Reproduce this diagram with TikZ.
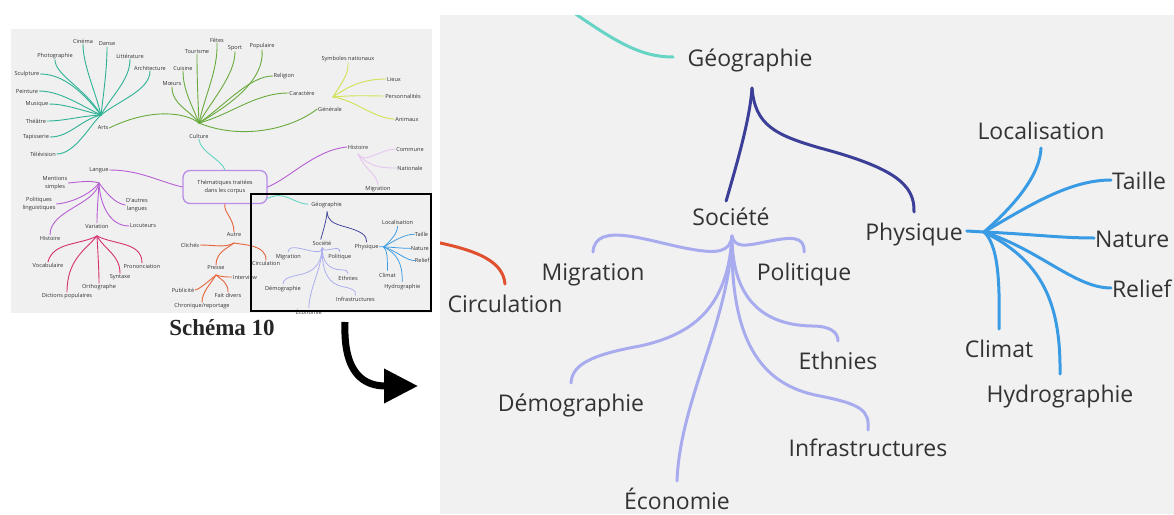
\documentclass[tikz,border=0pt]{standalone}
\usepackage{fontspec}
\newfontfamily\mmfont{Open Sans}
\newfontfamily\capfont{Liberation Serif}
\usetikzlibrary{arrows.meta}
\definecolor{txt}{HTML}{333333}
\definecolor{panelbg}{HTML}{F1F1F1}
\definecolor{thumbbg}{HTML}{F0F0F0}
\definecolor{tealc}{HTML}{66D4C4}
\definecolor{navy}{HTML}{3C3F98}
\definecolor{lav}{HTML}{A8ACEE}
\definecolor{sky}{HTML}{3A9BE5}
\definecolor{redc}{HTML}{E0502F}
\definecolor{artc}{HTML}{2EB295}
\definecolor{culc}{HTML}{68AB3C}
\definecolor{genc}{HTML}{D3E152}
\definecolor{purc}{HTML}{B65ED3}
\definecolor{lpur}{HTML}{E6C5F0}
\definecolor{varc}{HTML}{D6306F}
\definecolor{autc}{HTML}{E5653C}
\definecolor{boxc}{HTML}{B88DE8}
\newcommand\brw{3pt}
\newcommand\geotree[1]{%
\node[lbl,outer sep=14.5pt] (#1geo) at (750,57) {Géographie};
\node[lbl,outer sep=0pt] (#1soc) at (731,216) {Société};
\node[lbl] (#1phy) at (914,231) {Physique};
\node[lbl] (#1mig) at (593,271) {Migration};
\node[lbl] (#1pol) at (804,271) {Politique};
\node[lbl] (#1eth) at (838,360) {Ethnies};
\node[lbl] (#1dem) at (571,402) {Démographie};
\node[lbl,outer sep=2pt] (#1inf) at (868,447) {Infrastructures};
\node[lbl] (#1eco) at (677,500) {Économie};
\node[lbl,outer sep=3pt] (#1loc) at (1041,130) {Localisation};
\node[lbl,outer sep=1pt,anchor=west] (#1tai) at (1111,180) {Taille};
\node[lbl,outer sep=1pt,anchor=west] (#1nat) at (1094,238) {Nature};
\node[lbl,outer sep=1pt,anchor=west] (#1rel) at (1111,288) {Relief};
\node[lbl] (#1cli) at (999,348) {Climat};
\node[lbl] (#1hyd) at (1060,393) {Hydrographie};
\coordinate (#1geoH) at (752,88);
\coordinate (#1socH) at (732,236);
\coordinate (#1phyH) at (984,232);
\draw[branch,navy] (#1geoH) .. controls (750,120) and (735,170) .. (#1soc.108);
\draw[branch,navy] (#1geoH) .. controls (755,125) and (775,135) .. (820,148) .. controls (895,168) and (915,185) .. (#1phy.north);
\draw[branch,lav] (#1socH) .. controls (730,252) and (718,254) .. (690,249) .. controls (650,242) and (595,220) .. (#1mig.north);
\draw[branch,lav] (#1socH) .. controls (735,248) and (745,246) .. (765,242) .. controls (790,237) and (805,235) .. (#1pol.north);
\draw[branch,lav] (#1socH) .. controls (732,290) and (755,325) .. (812,326) .. controls (830,326) and (838,332) .. (#1eth.north);
\draw[branch,lav] (#1socH) .. controls (728,310) and (690,335) .. (640,346) .. controls (590,355) and (572,365) .. (#1dem.north);
\draw[branch,lav] (#1socH) .. controls (730,320) and (680,400) .. (#1eco.north);
\draw[branch,lav] (#1socH) .. controls (730,340) and (760,385) .. (820,396) .. controls (860,404) and (870,410) .. (#1inf.north);
\draw[branch,sky] (#1phy.east) -- (#1phyH);
\draw[branch,sky] (#1phyH) .. controls (1015,205) and (1040,175) .. (#1loc.south);
\draw[branch,sky] (#1phyH) .. controls (1030,205) and (1070,180) .. (#1tai.west);
\draw[branch,sky] (#1phyH) .. controls (1030,234) and (1060,238) .. (#1nat.west);
\draw[branch,sky] (#1phyH) .. controls (1040,250) and (1075,288) .. (#1rel.west);
\draw[branch,sky] (#1phyH) .. controls (998,245) and (1000,280) .. (#1cli.north);
\draw[branch,sky] (#1phyH) .. controls (1040,260) and (1061,300) .. (#1hyd.north);
}
\begin{document}
\begin{tikzpicture}[x=1pt,y=-1pt,
  lbl/.style={font=\mmfont\fontsize{23}{27}\selectfont,text=txt,inner sep=0pt,outer sep=4pt,text height=24pt,text depth=6pt},
  tlbl/.style={font=\mmfont\fontsize{5.6}{7.5}\selectfont,text=txt,inner sep=0.5pt,outer sep=0.5pt},
  branch/.style={line width=\brw,line cap=round},
  twig/.style={line width=0.9pt,line cap=round}]
\useasboundingbox (0,0) rectangle (1174,514);
\fill[white] (0,0) rectangle (1174,514);
\begin{scope}
\fill[thumbbg] (11,29) rectangle (432,313);
\clip (11,29) rectangle (432,313);
\node[tlbl,draw=boxc,line width=1.3pt,rounded corners=7pt,minimum width=84pt,minimum height=33pt,align=center] (box) at (225,187) {Thématiques traitées\\dans les corpus};
\node[tlbl] (cin) at (83,41) {Cinéma};
\node[tlbl] (dan) at (107,44) {Danse};
\node[tlbl] (pho) at (55,56) {Photographie};
\node[tlbl] (lit) at (130,56) {Littérature};
\node[tlbl] (arc) at (150,68) {Architecture};
\node[tlbl] (scu) at (27,74) {Sculpture};
\node[tlbl] (pei) at (27,91) {Peinture};
\node[tlbl] (mus) at (37,104) {Musique};
\node[tlbl] (the) at (36,121) {Théâtre};
\node[tlbl] (tap) at (36,137) {Tapisserie};
\node[tlbl] (tel) at (43,154) {Télévision};
\node[tlbl] (arts) at (103,128) {Arts};
\node[tlbl] (moe) at (172,84) {Mœurs};
\node[tlbl] (cui) at (183,68) {Cuisine};
\node[tlbl] (tou) at (197,51) {Tourisme};
\node[tlbl] (fet) at (217,40) {Fêtes};
\node[tlbl] (spo) at (235,48) {Sport};
\node[tlbl] (pop) at (262,46) {Populaire};
\node[tlbl] (reli) at (284,76) {Religion};
\node[tlbl] (car) at (302,93) {Caractère};
\node[tlbl] (cul) at (199,136) {Culture};
\node[tlbl] (gen) at (330,109) {Générale};
\node[tlbl] (sym) at (348,59) {Symboles nationaux};
\node[tlbl] (lie) at (394,79) {Lieux};
\node[tlbl] (per) at (403,96) {Personnalités};
\node[tlbl] (ani) at (407,119) {Animaux};
\node[tlbl] (his) at (358,147) {Histoire};
\node[tlbl] (com) at (410,149) {Commune};
\node[tlbl] (nati) at (410,168) {Nationale};
\node[tlbl] (hmig) at (378,189) {Migration};
\node[tlbl] (lan) at (99,170) {Langue};
\node[tlbl,align=center] (men) at (55,183) {Mentions\\simples};
\node[tlbl,align=center] (poli) at (39,204) {Politiques\\linguistiques};
\node[tlbl,align=center] (dau) at (137,205) {D'autres\\langues};
\node[tlbl] (lhis) at (50,238) {Histoire};
\node[tlbl] (var) at (97,226) {Variation};
\node[tlbl] (locu) at (143,226) {Locuteurs};
\node[tlbl] (voc) at (48,265) {Vocabulaire};
\node[tlbl] (pro) at (142,266) {Prononciation};
\node[tlbl] (syn) at (120,277) {Syntaxe};
\node[tlbl] (ort) at (99,287) {Orthographe};
\node[tlbl] (dic) at (67,296) {Dictions populaires};
\node[tlbl] (aut) at (234,235) {Autre};
\node[tlbl] (clic) at (190,245) {Clichés};
\node[tlbl] (pre) at (216,268) {Presse};
\node[tlbl] (tcirc) at (266,263) {Circulation};
\node[tlbl] (itw) at (245,277) {Interview};
\node[tlbl] (pub) at (183,290) {Publicité};
\node[tlbl] (fai) at (228,295) {Fait divers};
\node[tlbl] (chr) at (202,306) {Chronique/reportage};
\coordinate (artsH) at (101,115);
\coordinate (culH) at (199,123);
\coordinate (genH) at (333,97);
\coordinate (hisH) at (358,154);
\coordinate (lanH) at (99,183);
\coordinate (varH) at (97,236);
\coordinate (autH) at (234,243);
\coordinate (preH) at (216,275);
\draw[twig,artc] (artsH) .. controls (95,90) and (83,65) .. (cin.south);
\draw[twig,artc] (artsH) .. controls (104,90) and (107,68) .. (dan.south);
\draw[twig,artc] (artsH) .. controls (85,88) and (55,75) .. (pho.south);
\draw[twig,artc] (artsH) .. controls (112,95) and (130,80) .. (lit.south);
\draw[twig,artc] (artsH) .. controls (120,100) and (150,90) .. (arc.south);
\draw[twig,artc] (artsH) .. controls (85,95) and (65,74) .. (scu.east);
\draw[twig,artc] (artsH) .. controls (80,105) and (60,91) .. (pei.east);
\draw[twig,artc] (artsH) .. controls (80,110) and (65,104) .. (mus.east);
\draw[twig,artc] (artsH) .. controls (80,116) and (65,121) .. (the.east);
\draw[twig,artc] (artsH) .. controls (80,120) and (70,137) .. (tap.east);
\draw[twig,artc] (artsH) .. controls (90,125) and (75,154) .. (tel.east);
\draw[twig,culc] (culH) .. controls (185,112) and (150,108) .. (arts.east);
\draw[twig,culc] (culH) .. controls (190,110) and (172,105) .. (moe.south);
\draw[twig,culc] (culH) .. controls (192,105) and (183,90) .. (cui.south);
\draw[twig,culc] (culH) .. controls (198,100) and (197,80) .. (tou.south);
\draw[twig,culc] (culH) .. controls (205,95) and (218,70) .. (fet.south);
\draw[twig,culc] (culH) .. controls (212,100) and (235,75) .. (spo.south);
\draw[twig,culc] (culH) .. controls (230,105) and (265,80) .. (pop.south);
\draw[twig,culc] (culH) .. controls (225,105) and (250,76) .. (reli.west);
\draw[twig,culc] (culH) .. controls (230,115) and (255,93) .. (car.west);
\draw[twig,culc] (culH) .. controls (240,140) and (290,130) .. (gen.west);
\draw[twig,genc] (genH) .. controls (340,85) and (349,75) .. (sym.south);
\draw[twig,genc] (genH) .. controls (350,85) and (365,79) .. (lie.west);
\draw[twig,genc] (genH) .. controls (355,95) and (370,96) .. (per.west);
\draw[twig,genc] (genH) .. controls (355,100) and (375,119) .. (ani.west);
\draw[twig,purc] (box.east) .. controls (290,178) and (315,150) .. (his.west);
\draw[twig,lpur] (hisH) .. controls (365,165) and (380,149) .. (com.west);
\draw[twig,lpur] (hisH) .. controls (370,168) and (385,168) .. (nati.west);
\draw[twig,lpur] (hisH) .. controls (365,170) and (378,175) .. (hmig.north);
\draw[twig,purc] (box.west) .. controls (160,182) and (140,170) .. (lan.east);
\draw[twig,purc] (lanH) .. controls (90,180) and (80,182) .. (men.east);
\draw[twig,purc] (lanH) .. controls (90,195) and (70,203) .. (poli.east);
\draw[twig,purc] (lanH) .. controls (108,195) and (115,203) .. (dau.west);
\draw[twig,purc] (lanH) .. controls (95,205) and (50,210) .. (lhis.north);
\draw[twig,purc] (lanH) .. controls (98,200) and (97,210) .. (var.north);
\draw[twig,purc] (lanH) .. controls (100,205) and (110,226) .. (locu.west);
\draw[twig,varc] (varH) .. controls (80,245) and (53,242) .. (voc.north);
\draw[twig,varc] (varH) .. controls (115,245) and (142,242) .. (pro.north);
\draw[twig,varc] (varH) .. controls (105,250) and (120,255) .. (syn.north);
\draw[twig,varc] (varH) .. controls (98,255) and (99,270) .. (ort.north);
\draw[twig,varc] (varH) .. controls (85,250) and (67,260) .. (dic.north);
\draw[twig,autc] (box.south) .. controls (223,212) and (234,218) .. (aut.north);
\draw[twig,autc] (autH) .. controls (225,248) and (215,245) .. (clic.east);
\draw[twig,autc] (autH) .. controls (228,248) and (216,252) .. (pre.north);
\draw[twig,autc] (autH) .. controls (245,245) and (266,245) .. (tcirc.north);
\draw[twig,autc] (preH) .. controls (222,277) and (226,277) .. (itw.west);
\draw[twig,autc] (preH) .. controls (210,280) and (200,289) .. (pub.east);
\draw[twig,autc] (preH) .. controls (222,280) and (228,283) .. (fai.north);
\draw[twig,autc] (preH) .. controls (210,285) and (202,292) .. (chr.north);
\begin{scope}[shift={(143.6,190.3)},scale=0.244,transform shape]
\renewcommand\brw{0.75pt}
\geotree{t}
\end{scope}
\draw[twig,tealc] (box.north) .. controls (222,160) and (200,152) .. (cul.south);
\draw[twig,tealc] (box.-15) .. controls (285,190) and (292,203) .. (tgeo.west);
\end{scope}
\draw[line width=1.6pt] (251,194) rectangle (431,311);
\node[font=\capfont\bfseries\fontsize{23}{27}\selectfont,text=black!85] (cap) at (222,328) {Schéma 10};
\coordinate (arrS) at (345,322);
\coordinate (arrE) at (418,386);
\draw[line width=7pt,-{Triangle[length=34pt,width=33pt]}] (arrS) .. controls (343,375) and (365,386) .. (arrE);
\begin{scope}
\fill[panelbg] (440,15) rectangle (1174,514);
\clip (440,15) rectangle (1174,514);
\geotree{}
\node[lbl] (circ) at (505,303) {Circulation};
\coordinate (circIn) at (425,240);
\coordinate (geoIn) at (560,3);
\draw[branch,redc] (circ.north) .. controls (503,262) and (480,250) .. (circIn);
\draw[branch,tealc] (geo.west) .. controls (640,57) and (615,42) .. (geoIn);
\end{scope}
\end{tikzpicture}
\end{document}
